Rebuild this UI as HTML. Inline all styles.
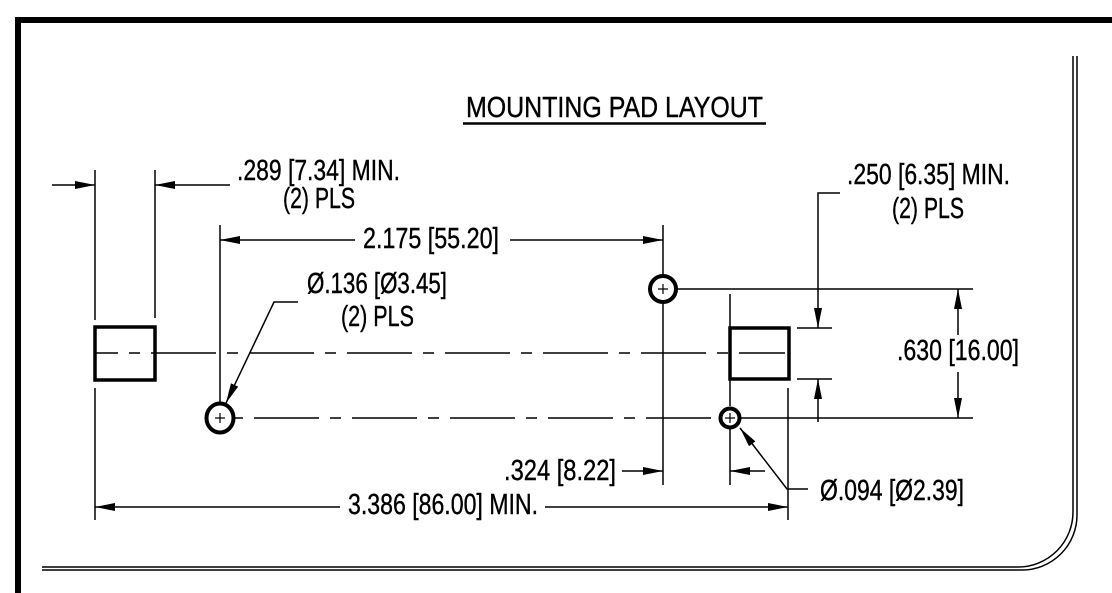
<!DOCTYPE html>
<html><head><meta charset="utf-8"><style>
html,body{margin:0;padding:0;background:#fff}
svg{display:block}
text{font-family:"Liberation Sans",sans-serif;font-size:29px;fill:#000;stroke:#000;stroke-width:0.4}
</style></head><body>
<svg width="1112" height="593" viewBox="0 0 1112 593" xmlns="http://www.w3.org/2000/svg">
<defs>
<marker id="a" viewBox="0 0 20 8" refX="20" refY="4" markerWidth="20" markerHeight="8" markerUnits="userSpaceOnUse" orient="auto-start-reverse"><path d="M0,0 L20,4 L0,8 Z" fill="#000"/></marker>
</defs>
<path d="M18,593 V20 H1112" fill="none" stroke="#000" stroke-width="6"/>
<path d="M1073,56 V512 A55,55 0 0 1 1018,567 H42" fill="none" stroke="#000" stroke-width="1.5"/>
<path d="M1077,56 V515 A55,55 0 0 1 1022,570 H42" fill="none" stroke="#000" stroke-width="1.5"/>

<text x="466" y="117" font-size="36" textLength="297" lengthAdjust="spacingAndGlyphs">MOUNTING PAD LAYOUT</text>
<line x1="463" y1="123.5" x2="766" y2="123.5" stroke="#000" stroke-width="2.5"/>

<g stroke="#000" stroke-width="1.5" fill="none">
<line x1="95" y1="170" x2="95" y2="320"/>
<line x1="95" y1="388" x2="95" y2="520"/>
<line x1="155" y1="170" x2="155" y2="318"/>
<line x1="220" y1="225" x2="220" y2="404"/>
<line x1="663" y1="225" x2="663" y2="275"/>
<line x1="663" y1="303" x2="663" y2="485"/>
<line x1="730" y1="294" x2="730" y2="406"/>
<line x1="730" y1="429" x2="730" y2="485"/>
<line x1="788" y1="388" x2="788" y2="520"/>
<line x1="677" y1="289" x2="973" y2="289"/>
<line x1="741" y1="418" x2="973" y2="418"/>
<line x1="797" y1="328" x2="832" y2="328"/>
<line x1="797" y1="379" x2="832" y2="379"/>

<line x1="96" y1="353" x2="785" y2="353" stroke-dasharray="65 11 11 11" stroke-dashoffset="-55"/>
<line x1="234" y1="418" x2="720" y2="418" stroke-dasharray="65 11 11 11" stroke-dashoffset="-20"/>

<line x1="52" y1="185" x2="95" y2="185" marker-end="url(#a)"/>
<line x1="230" y1="185" x2="155" y2="185" marker-end="url(#a)"/>
<line x1="355" y1="240" x2="220" y2="240" marker-end="url(#a)"/>
<line x1="510" y1="240" x2="663" y2="240" marker-end="url(#a)"/>
<path d="M840,193 H818 V328" marker-end="url(#a)"/>
<line x1="818" y1="422" x2="818" y2="379" marker-end="url(#a)"/>
<line x1="958" y1="335" x2="958" y2="289" marker-end="url(#a)"/>
<line x1="958" y1="372" x2="958" y2="418" marker-end="url(#a)"/>
<path d="M298,302 H274 L226,403" marker-end="url(#a)"/>
<line x1="622" y1="471" x2="663" y2="471" marker-end="url(#a)"/>
<line x1="765" y1="471" x2="730" y2="471" marker-end="url(#a)"/>
<path d="M808,489 H787 L740,428" marker-end="url(#a)"/>
<line x1="340" y1="507" x2="95" y2="507" marker-end="url(#a)"/>
<line x1="545" y1="507" x2="788" y2="507" marker-end="url(#a)"/>
</g>

<rect x="95" y="327" width="60" height="53" fill="none" stroke="#000" stroke-width="3.5"/>
<rect x="730" y="328" width="59" height="51" fill="none" stroke="#000" stroke-width="3.5"/>

<g fill="none" stroke="#000">
<circle cx="663" cy="289" r="13" stroke-width="4"/>
<path d="M658,289 H668 M663,284 V294" stroke-width="1.2"/>
<ellipse cx="220" cy="418" rx="13.5" ry="14.5" stroke-width="4"/>
<path d="M215,418 H225 M220,413 V423" stroke-width="1.2"/>
<circle cx="730" cy="418" r="9.5" stroke-width="4"/>
<path d="M725,418 H735 M730,413 V423" stroke-width="1.2"/>
</g>

<text x="237" y="180" textLength="163" lengthAdjust="spacingAndGlyphs">.289 [7.34] MIN.</text>
<text x="283" y="208" textLength="72" lengthAdjust="spacingAndGlyphs">(2) PLS</text>
<text x="363" y="248" textLength="136" lengthAdjust="spacingAndGlyphs">2.175 [55.20]</text>
<text x="307" y="293" textLength="140" lengthAdjust="spacingAndGlyphs">Ø.136 [Ø3.45]</text>
<text x="341" y="326" textLength="73" lengthAdjust="spacingAndGlyphs">(2) PLS</text>
<text x="847" y="184" textLength="163" lengthAdjust="spacingAndGlyphs">.250 [6.35] MIN.</text>
<text x="892" y="218" textLength="72" lengthAdjust="spacingAndGlyphs">(2) PLS</text>
<text x="897" y="360" textLength="122" lengthAdjust="spacingAndGlyphs">.630 [16.00]</text>
<text x="504" y="480" textLength="112" lengthAdjust="spacingAndGlyphs">.324 [8.22]</text>
<text x="820" y="500" textLength="144" lengthAdjust="spacingAndGlyphs">Ø.094 [Ø2.39]</text>
<text x="348" y="514" textLength="190" lengthAdjust="spacingAndGlyphs">3.386 [86.00] MIN.</text>
</svg>
</body></html>
